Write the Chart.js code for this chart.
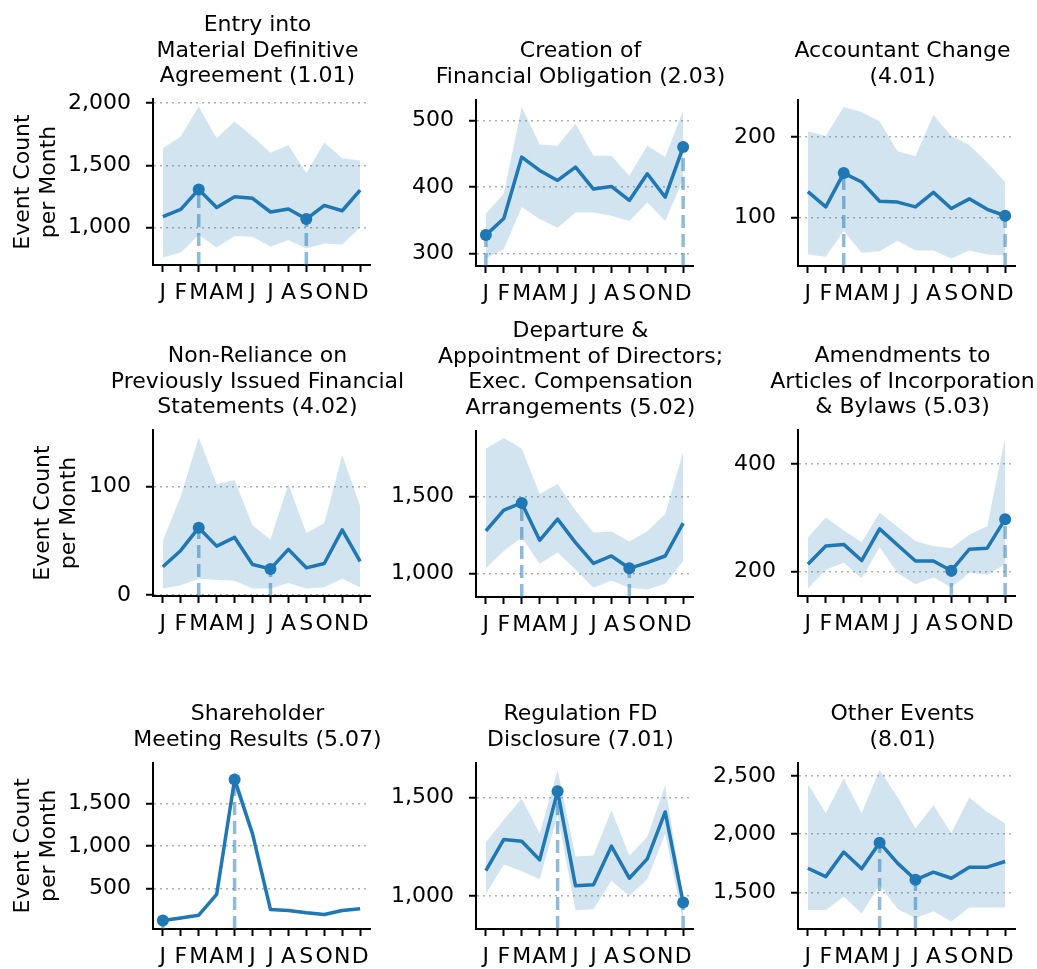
<!DOCTYPE html>
<html><head><meta charset="utf-8">
<script src="https://cdn.jsdelivr.net/npm/chart.js@4/dist/chart.umd.min.js"></script>
<style>
html,body{margin:0;padding:0;background:#fff;}
#fig{position:relative;width:1037px;height:969px;overflow:hidden;background:#fff;}
#fig canvas{position:absolute;}
</style></head><body><div id="fig"></div>
<script>
// ---------- data ----------
const months = ['J','F','M','A','M','J','J','A','S','O','N','D'];

const title1 = ['Entry into','Material Definitive','Agreement (1.01)'];
const mean1  = [1086,1145,1306,1161,1247,1234,1124,1148,1067,1177,1134,1300];
const upper1 = [1637,1731,1973,1718,1852,1731,1602,1664,1435,1683,1556,1538];
const lower1 = [758,798,938,839,930,925,844,898,831,871,863,1000];
const ticks1 = [1000,1500,2000];

const title2 = ['Creation of','Financial Obligation (2.03)'];
const mean2  = [328,353,445,425,410,430,397,401,380,420,385,460];
const upper2 = [360,390,520,464,462,495,447,447,417,462,445,515];
const lower2 = [293,307,370,352,339,362,362,357,349,377,349,412];
const ticks2 = [300,400,500];

const title3 = ['Accountant Change','(4.01)'];
const mean3  = [132,113,155,144,120,119,113,131,111,123,110,102];
const upper3 = [207,201,237,231,219,182,176,227,201,190,168,144];
const lower3 = [54,51,83,56,58,71,59,59,49,59,54,53];
const ticks3 = [100,200];

const title4 = ['Non-Reliance on','Previously Issued Financial','Statements (4.02)'];
const mean4  = [26,41,62,45,53,28,24,42,25,29,60,31];
const upper4 = [50,91,145,102,106,64,51,102,57,66,129,82];
const lower4 = [6,9,15,14,13,6,6,11,6,7,15,7];
const ticks4 = [0,100];

const title5 = ['Departure &','Appointment of Directors;','Exec. Compensation','Arrangements (5.02)'];
const mean5  = [1276,1411,1457,1215,1352,1200,1065,1113,1033,1070,1113,1326];
const upper5 = [1809,1878,1809,1515,1580,1407,1265,1272,1207,1272,1385,1787];
const lower5 = [1033,1146,1233,1063,1135,1026,907,954,907,896,933,1080];
const ticks5 = [1000,1500];

const title6 = ['Amendments to','Articles of Incorporation','& Bylaws (5.03)'];
const mean6  = [213,247,250,220,279,249,219,219,201,241,243,297];
const upper6 = [263,300,276,254,309,283,256,247,243,268,284,449];
const lower6 = [168,203,216,187,245,197,176,189,170,197,194,213];
const ticks6 = [200,400];

const title7 = ['Shareholder','Meeting Results (5.07)'];
const mean7  = [126,157,189,433,1780,1142,256,244,217,197,244,264];
const upper7 = [140,170,200,450,1890,1200,270,262,235,212,258,278];
const lower7 = [116,145,178,418,1690,1090,243,230,203,183,230,250];
const ticks7 = [500,1000,1500];

const title8 = ['Regulation FD','Disclosure (7.01)'];
const mean8  = [1128,1287,1278,1183,1532,1051,1056,1253,1090,1188,1427,966];
const upper8 = [1273,1387,1495,1316,1640,1200,1205,1435,1205,1299,1563,990];
const lower8 = [1009,1159,1125,1085,1410,927,932,1077,1000,1085,1316,870];
const ticks8 = [1000,1500];

const title9 = ['Other Events','(8.01)'];
const mean9  = [1707,1635,1846,1702,1927,1751,1607,1673,1621,1716,1716,1765];
const upper9 = [2431,2183,2480,2183,2552,2321,2048,2249,2010,2316,2192,2091];
const lower9 = [1347,1347,1463,1318,1563,1356,1278,1336,1249,1370,1370,1370];
const ticks9 = [1500,2000,2500];

const yTitleText = ['Event Count','per Month'];

// ---------- layout / style ----------
const plotLefts = [153, 476, 798];
const plotTops  = [99, 430, 762];
const plotW = 217, plotH = 166;
const AX = 150, AXR = 142, XH = 55;
const FONT = 'DejaVu Sans';
const FS = 22;
const TLH = 25.5, TPADB = 9.5;
const BLUE = '#1f77b4';

const panels = [
  [title1, mean1, upper1, lower1, ticks1, true, 6.8],
  [title2, mean2, upper2, lower2, ticks2, false, 0],
  [title3, mean3, upper3, lower3, ticks3, false, 0],
  [title4, mean4, upper4, lower4, ticks4, true, 26.8],
  [title5, mean5, upper5, lower5, ticks5, false, 0],
  [title6, mean6, upper6, lower6, ticks6, false, 0],
  [title7, mean7, upper7, lower7, ticks7, true, 6.8],
  [title8, mean8, upper8, lower8, ticks8, false, 0],
  [title9, mean9, upper9, lower9, ticks9, false, 0],
];

const fig = document.getElementById('fig');

function makePanel(idx, title, mean, upper, lower, ticks, showYTitle, yTitlePad) {
  const col = idx % 3, row = Math.floor(idx / 3);
  const lo = Math.min(...lower, ...mean), hi = Math.max(...upper, ...mean);
  const m = (hi - lo) * 0.05;
  const yMin = lo - m, yMax = hi + m;
  const iMax = mean.indexOf(Math.max(...mean));
  const iMin = mean.indexOf(Math.min(...mean));
  const pts = arr => arr.map((v, i) => ({x: i, y: v}));

  const W = AX + plotW + AXR;
  const H = Math.ceil(title.length * TLH + TPADB + plotH + XH);
  const canvas = document.createElement('canvas');
  canvas.width = W; canvas.height = H;
  canvas.style.width = W + 'px'; canvas.style.height = H + 'px';
  fig.appendChild(canvas);

  const font = {family: FONT, size: FS};
  const chart = new Chart(canvas, {
    type: 'line',
    data: {
      datasets: [
        {data: pts(upper), borderWidth: 0, pointRadius: 0, fill: '+1',
         backgroundColor: 'rgba(31,119,180,0.2)', borderColor: 'rgba(0,0,0,0)', order: 4},
        {data: pts(lower), borderWidth: 0, pointRadius: 0, fill: false,
         borderColor: 'rgba(0,0,0,0)', order: 5},
        {data: [{x: iMax, y: yMin}, {x: iMax, y: mean[iMax]}], borderColor: 'rgba(31,119,180,0.5)',
         borderWidth: 3.5, borderDash: [13, 6], pointRadius: 0, fill: false, order: 3},
        {data: [{x: iMin, y: yMin}, {x: iMin, y: mean[iMin]}], borderColor: 'rgba(31,119,180,0.5)',
         borderWidth: 3.5, borderDash: [13, 6], pointRadius: 0, fill: false, order: 3},
        {data: pts(mean), borderColor: BLUE, borderWidth: 3.5, pointRadius: 0, fill: false,
         borderJoinStyle: 'round', order: 1},
        {data: [{x: iMax, y: mean[iMax]}, {x: iMin, y: mean[iMin]}], showLine: false,
         pointRadius: 6, pointBackgroundColor: BLUE, pointBorderWidth: 0, pointBorderColor: BLUE,
         clip: false, order: 0},
      ]
    },
    options: {
      responsive: false, maintainAspectRatio: false, animation: false,
      layout: {padding: 0},
      plugins: {
        legend: {display: false}, tooltip: {enabled: false},
        title: {display: true, text: title, color: '#000',
                font: {family: FONT, size: FS, lineHeight: TLH + 'px', weight: 'normal'},
                padding: {top: 0, bottom: TPADB}}
      },
      scales: {
        x: {type: 'linear', min: -0.55, max: 11.55,
            afterBuildTicks: s => { s.ticks = months.map((mm, i) => ({value: i})); },
            afterFit: s => { s.height = XH; },
            ticks: {callback: v => months[v], autoSkip: false, maxRotation: 0, minRotation: 0,
                    font: font, color: '#000', padding: 8},
            grid: {drawOnChartArea: false, drawTicks: true, tickLength: 7, tickWidth: 2,
                   tickColor: '#000', color: '#000'},
            border: {display: true, color: '#000', width: 2}},
        y: {type: 'linear', position: 'left', min: yMin, max: yMax,
            afterBuildTicks: s => { s.ticks = ticks.map(v => ({value: v})); },
            afterFit: s => { s.width = AX; },
            ticks: {callback: v => v.toLocaleString('en-US'), font: font, color: '#000', padding: 15},
            grid: {color: '#b0b0b0', lineWidth: 1.5, tickColor: '#000', tickWidth: 2, tickLength: 7,
                   tickBorderDash: []},
            border: {display: true, color: '#000', width: 2, dash: [2, 4]},
            title: {display: showYTitle, text: yTitleText, color: '#000',
                    font: {family: FONT, size: FS, lineHeight: '26px'},
                    padding: {top: yTitlePad, bottom: 0}}},
        yR: {type: 'linear', position: 'right', display: true, min: 0, max: 1,
             afterFit: s => { s.width = AXR; },
             ticks: {display: false}, grid: {display: false}, border: {display: false}}
      }
    }
  });
  canvas.style.left = (plotLefts[col] - chart.chartArea.left) + 'px';
  canvas.style.top = (plotTops[row] - chart.chartArea.top) + 'px';
}

panels.forEach((p, i) => makePanel(i, ...p));
</script>
</body></html>
